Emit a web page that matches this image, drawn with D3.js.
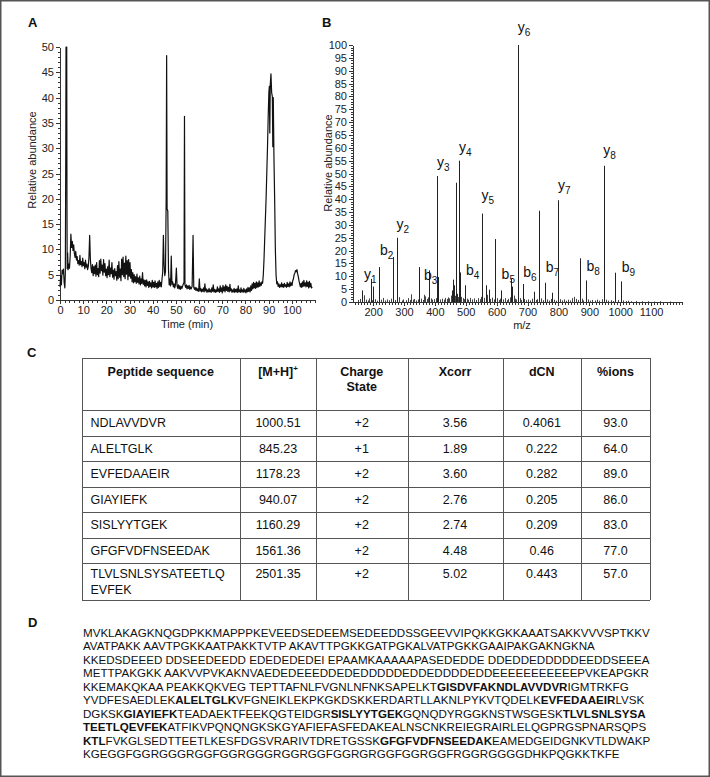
<!DOCTYPE html>
<html>
<head>
<meta charset="utf-8">
<script src="https://cdn.jsdelivr.net/npm/d3@7"></script>
<style>
body { margin: 0; background: #fff; }
svg { display: block; font-family: "Liberation Sans", Arial, sans-serif; }
.axis text { font-size: 11px; fill: #222; font-family: "Liberation Sans", Arial, sans-serif; }
.axis path, .axis line { stroke: #333; shape-rendering: crispEdges; }
.title { font-size: 11px; fill: #222; }
.panel { font-size: 13px; font-weight: bold; fill: #111; }
.grid line { stroke: #555; shape-rendering: crispEdges; }
.cell { font-size: 12.5px; fill: #111; }
.head { font-size: 12.5px; font-weight: bold; fill: #111; }
.seq { font-size: 11.6px; fill: #111; }
</style>
</head>
<body>
<svg id="fig" width="710" height="777"></svg>
<script>
// A: base peak chromatogram, [time (min), relative abundance]
var chromatogram = [
 [0,2.6],[0.3,4.8],[0.6,3.0],[0.9,5.9],[1.2,5.2],[1.5,6.1],[1.8,3.4],[2.1,2.4],[2.3,5.5],[2.5,30],[2.6,50],[2.9,50],[3.0,20],
 [3.1,6.2],[3.3,9.3],[3.5,6.0],[3.8,7.1],[4.1,6.3],[4.4,8.8],[4.7,13.0],[5.0,10.4],[5.3,11.6],[5.6,9.8],[5.9,10.9],[6.2,9.2],
 [6.5,8.4],[6.8,9.6],[7.1,7.9],[7.4,8.6],[7.7,7.2],[8.0,7.8],[8.3,6.9],[8.6,8.8],[8.9,7.0],[9.2,7.6],[9.5,6.6],[9.8,8.3],
 [10.1,6.8],[10.4,7.4],[10.7,6.2],[11.0,7.9],[11.3,6.5],[11.6,7.1],[11.9,6.0],[12.2,6.6],[12.5,8.5],[12.8,12.8],[13.1,8.0],
 [13.4,6.2],[13.7,5.4],[14.0,7.0],[14.3,4.8],[14.6,6.6],[14.9,5.2],[15.2,6.9],[15.5,4.7],[15.8,7.4],[16.1,5.0],[16.4,6.2],
 [16.7,4.6],[17.0,7.8],[17.3,5.3],[17.6,8.1],[17.9,5.8],[18.2,6.9],[18.5,4.9],[18.8,8.0],[19.1,5.5],[19.4,7.2],[19.7,4.8],
 [20.0,6.1],[20.3,4.4],[20.6,6.6],[20.9,5.0],[21.2,7.9],[21.5,4.6],[21.8,6.3],[22.1,5.2],[22.4,7.4],[22.7,4.5],[23.0,5.9],
 [23.3,4.1],[23.6,6.2],[23.9,4.8],[24.2,5.6],[24.5,3.9],[24.8,6.8],[25.1,4.2],[25.4,7.6],[25.7,4.5],[26.0,6.1],[26.3,3.8],
 [26.6,8.1],[26.9,5.0],[27.2,8.5],[27.5,4.6],[27.8,7.3],[28.1,4.2],[28.4,8.7],[28.7,5.1],[29.0,7.8],[29.3,4.0],[29.6,8.0],
 [29.9,4.7],[30.2,7.4],[30.5,4.3],[30.8,6.0],[31.1,3.6],[31.4,5.4],[31.7,3.4],[32.0,5.0],[32.3,3.6],[32.6,4.6],[32.9,3.3],
 [33.2,5.1],[33.5,3.5],[33.8,4.4],[34.1,3.2],[34.4,4.7],[34.7,3.0],[35.0,4.2],[35.3,3.3],[35.6,5.4],[35.9,3.1],[36.2,4.0],
 [36.5,2.8],[36.8,3.9],[37.1,2.6],[37.4,4.0],[37.7,2.9],[38.0,3.6],[38.3,2.5],[38.6,3.7],[38.9,2.7],[39.2,3.4],[39.5,2.4],
 [39.8,3.9],[40.1,2.6],[40.4,3.5],[40.7,2.5],[41.0,3.8],[41.3,2.6],[41.6,3.3],[41.9,2.3],[42.2,3.6],[42.5,2.5],[42.8,3.9],
 [43.1,2.7],[43.4,3.5],[43.7,2.6],[44.0,4.1],[44.3,5.5],[44.6,12.8],[44.9,7.0],[45.2,4.8],[45.5,5.6],[45.8,20],[46.0,48.3],
 [46.2,18.0],[46.5,17.6],[46.8,6.0],[47.1,3.0],[47.4,4.2],[47.7,2.8],[48.0,8.7],[48.3,3.1],[48.6,3.6],[48.9,2.6],[49.2,3.2],
 [49.5,2.4],[49.8,3.0],[50.2,6.3],[50.5,2.8],[50.8,2.3],[51.1,3.0],[51.4,2.2],[51.7,2.8],[52.0,2.1],[52.3,2.7],[52.6,2.3],
 [53.0,2.9],[53.5,3.5],[53.7,36.3],[53.9,3.0],[54.2,2.5],[54.5,3.0],[54.8,2.2],[55.1,2.8],[55.4,2.3],[55.7,2.9],[56.0,2.1],
 [56.3,2.6],[56.6,2.2],[57.0,2.7],[57.4,12.8],[57.7,2.5],[58.0,2.1],[58.3,2.5],[58.6,1.9],[58.9,2.4],[59.2,1.8],[59.5,2.2],
 [59.8,1.7],[60.1,4.2],[60.4,1.8],[60.7,2.3],[61.0,1.6],[61.3,2.1],[61.6,1.7],[61.9,2.4],[62.2,1.6],[62.5,3.2],[62.8,1.8],
 [63.1,2.2],[63.4,1.5],[63.7,2.0],[64.0,1.6],[64.3,2.3],[64.6,1.6],[64.9,2.0],[65.2,1.5],[65.5,2.4],[65.8,1.7],[66.1,3.0],
 [66.4,1.6],[66.7,2.1],[67.0,1.5],[67.3,2.0],[67.6,1.6],[67.9,2.6],[68.2,1.7],[68.5,2.2],[68.8,1.5],[69.1,2.8],[69.4,1.7],
 [69.7,2.4],[70.0,1.4],[70.3,2.9],[70.6,1.8],[70.9,2.6],[71.2,1.6],[71.5,3.0],[71.8,1.9],[72.1,2.7],[72.4,1.7],[72.7,2.5],
 [73.0,1.6],[73.3,3.1],[73.6,1.8],[73.9,2.2],[74.2,1.5],[74.5,2.0],[74.8,1.6],[75.1,2.3],[75.4,1.5],[75.7,2.1],[76.0,1.6],
 [76.3,2.2],[76.6,1.5],[76.9,2.8],[77.2,1.6],[77.5,2.0],[77.8,1.5],[78.1,2.4],[78.4,1.6],[78.7,2.0],[79.0,1.5],[79.3,2.3],
 [79.6,1.6],[79.9,2.0],[80.2,1.4],[80.5,2.2],[80.8,1.6],[81.1,2.5],[81.4,1.7],[81.7,2.4],[82.0,1.6],[82.3,2.8],[82.6,1.9],
 [82.9,3.2],[83.2,2.2],[83.5,3.5],[83.8,2.4],[84.1,3.3],[84.4,2.3],[84.7,3.6],[85.0,2.5],[85.3,3.4],[85.6,2.6],[85.9,3.8],
 [86.2,2.7],[86.5,3.4],[86.8,2.9],[87.1,3.6],[87.4,3.3],[87.7,5.0],[88.0,8],[88.3,12],[88.6,16],[88.9,20],[89.2,25],
 [89.5,30],[89.8,36],[90.1,41],[90.3,42.2],[90.5,33],[90.7,42.5],[91.0,44.7],[91.3,41],[91.6,40.2],[91.8,30.3],[92.0,40],
 [92.3,28],[92.6,19.8],[92.9,10],[93.2,5],[93.5,3.2],[93.8,3.6],[94.1,2.7],[94.4,3.2],[94.7,2.5],[95.0,3.0],[95.3,2.6],
 [95.6,3.4],[95.9,2.6],[96.2,3.1],[96.5,2.5],[96.8,3.3],[97.1,2.7],[97.4,3.0],[97.7,2.5],[98.0,3.5],[98.3,2.7],[98.6,3.2],
 [98.9,2.6],[99.2,3.6],[99.5,2.8],[99.8,3.4],[100.1,2.9],[100.4,3.8],[100.7,4.2],[101.0,5.0],[101.3,5.3],[101.6,5.8],
 [101.9,5.6],[102.2,6.0],[102.5,5.2],[102.8,4.6],[103.1,3.8],[103.4,3.2],[103.7,2.6],[104.0,3.3],[104.3,2.5],[104.6,3.6],
 [104.9,2.7],[105.2,3.9],[105.5,2.8],[105.8,3.4],[106.1,2.6],[106.4,3.8],[106.7,2.7],[107.0,3.5],[107.3,2.4],[107.6,3.7],
 [107.9,2.6],[108.2,3.3],[108.5,2.4],[108.8,2.6]
];
var timeTicks = [0, 10, 20, 30, 40, 50, 60, 70, 80, 90, 100];
var abundTicksA = [0, 5, 10, 15, 20, 25, 30, 35, 40, 45, 50];

// B: MS/MS spectrum, [m/z, relative abundance]
var spectrum = [
 [163,4.5],[171,2.6],[193,9.0],[201,6.0],[219,13.6],[266,17.5],[279,25.0],[322,3.0],[350,13.6],[365,2.8],[382,12.3],
 [408,49.0],[411,9.7],[452,2.5],[456,4.5],[459,8.7],[462,6.5],[468,46.4],[479,55.0],[482,11.5],[498,6.5],[554,34.4],
 [565,6.5],[575,4.8],[595,24.5],[615,4.5],[648,9.0],[651,6.0],[668,100],[685,7.0],[721,4.0],[738,35.5],[758,7.5],
 [780,3.6],[799,39.6],[851,2.0],[869,17.0],[888,8.4],[948,53.0],[984,11.4],[1002,8.0],
 [152,0.8],[158,1.2],[176,0.9],[184,0.6],[188,1.4],[196,0.7],[206,1.1],[212,0.5],[225,0.9],[231,1.6],[238,0.6],[246,1.0],
 [252,0.7],[258,1.3],[271,0.8],[285,1.9],[292,0.6],[298,1.0],[305,0.7],[312,1.5],[318,0.8],[328,0.9],[334,1.2],[340,0.6],
 [346,1.0],[356,1.3],[360,0.8],[369,2.2],[374,1.2],[378,1.8],[387,1.4],[392,0.9],[398,1.1],[403,1.5],[416,1.0],[422,1.3],
 [428,0.9],[433,1.6],[438,1.2],[443,1.8],[447,1.4],[465,2.4],[472,3.2],[475,1.9],[486,2.0],[490,1.5],[494,1.1],[503,1.3],
 [508,0.9],[514,1.6],[520,1.0],[527,1.4],[533,0.8],[539,1.5],[545,1.1],[549,2.0],[559,1.6],[570,2.8],[580,1.2],[586,1.7],
 [590,1.0],[600,1.5],[606,0.8],[610,1.3],[620,1.0],[626,1.5],[632,0.7],[637,1.2],[642,1.8],[655,2.5],[659,1.3],[663,1.0],
 [674,1.5],[679,0.8],[690,1.2],[695,0.7],[702,1.0],[708,0.6],[714,1.3],[726,0.8],[731,1.1],[744,1.4],[750,0.7],[764,1.0],
 [770,0.6],[775,1.2],[786,0.9],[792,0.5],[806,1.1],[812,0.6],[818,1.0],[824,0.5],[830,0.9],[838,0.6],[845,1.5],[857,1.2],
 [863,0.8],[875,1.3],[880,0.6],[895,1.0],[902,0.5],[910,0.8],[918,0.6],[925,0.9],[932,0.5],[940,1.1],[955,0.9],[962,0.5],
 [970,0.7],[977,0.4],[992,0.8],[1010,0.6],[1018,0.4],[1025,0.5],[1035,0.3],[1050,0.4],[1070,0.3],[1090,0.3],[1110,0.2],
 [1130,0.3],[1160,0.2]
];
// fragment ion labels: [series, number, m/z, level] (text anchor in data units)
var ionLabels = [
 ["y",1,171,9.0],["b",2,222,18.3],["y",2,276,28.5],["b",3,365,8.6],["y",3,407,52.7],["y",4,478,58.5],
 ["b",4,501,10.5],["y",5,551,39.8],["b",5,616,9.0],["y",6,668,105],["b",6,686,9.8],["b",7,759,11.7],
 ["y",7,799,43.7],["b",8,891,12.1],["y",8,945,57.3],["b",9,1005,11.7]
];
var mzTicks = [200, 300, 400, 500, 600, 700, 800, 900, 1000, 1100];
var abundTicksB = [0,5,10,15,20,25,30,35,40,45,50,55,60,65,70,75,80,85,90,95,100];

// C: peptide identifications
var tableHeader = [["Peptide sequence"], ["[M+H]", "+"], ["Charge", "State"], ["Xcorr"], ["dCN"], ["%ions"]];
var pepSeq = ["NDLAVVDVR", "ALELTGLK", "EVFEDAAEIR", "GIAYIEFK", "SISLYYTGEK", "GFGFVDFNSEEDAK", "TLVLSNLSYSATEETLQEVFEK"];
var pepMH = ["1000.51", "845.23", "1178.23", "940.07", "1160.29", "1561.36", "2501.35"];
var pepCharge = ["+2", "+1", "+2", "+2", "+2", "+2", "+2"];
var pepXcorr = ["3.56", "1.89", "3.60", "2.76", "2.74", "4.48", "5.02"];
var pepDCN = ["0.4061", "0.222", "0.282", "0.205", "0.209", "0.46", "0.443"];
var pepIons = ["93.0", "64.0", "89.0", "86.0", "83.0", "77.0", "57.0"];

// D: protein sequence, identified peptides in [brackets]
var seqLines = [
 "MVKLAKAGKNQGDPKKMAPPPKEVEEDSEDEEMSEDEEDDSSGEEVVIPQKKGKKAAATSAKKVVVSPTKKV",
 "AVATPAKK AAVTPGKKAATPAKKTVTP AKAVTTPGKKGATPGKALVATPGKKGAAIPAKGAKNGKNA",
 "KKEDSDEEED DDSEEDEEDD EDEDEDEDEI EPAAMKAAAAAPASEDEDDE DDEDDEDDDDDEEDDSEEEA",
 "METTPAKGKK AAKVVPVKAKNVAEDEDEEEDDEDEDDDDDEDDEDDDDEDDEEEEEEEEEEEPVKEAPGKR",
 "KKEMAKQKAA PEAKKQKVEG TEPTTAFNLFVGNLNFNKSAPELKT[GISDVFAKNDLAVVDVR]IGMTRKFG",
 "YVDFESAEDLEK[ALELTGLK]VFGNEIKLEKPKGKDSKKERDARTLLAKNLPYKVTQDELK[EVFEDAAEIR]LVSK",
 "DGKSK[GIAYIEFK]TEADAEKTFEEKQGTEIDGR[SISLYYTGEK]GQNQDYRGGKNSTWSGESK[TLVLSNLSYSA]",
 "[TEETLQEVFEK]ATFIKVPQNQNGKSKGYAFIEFASFEDAKEALNSCNKREIEGRAIRLELQGPRGSPNARSQPS",
 "[KTL]FVKGLSEDTTEETLKESFDGSVRARIVTDRETGSSK[GFGFVDFNSEEDAK]EAMEDGEIDGNKVTLDWAKP",
 "KGEGGFGGRGGGRGGFGGRGGGRGGRGGFGGRGRGGFGGRGGFRGGRGGGGDHKPQGKKTKFE"
];

var svg = d3.select("#fig");

svg.append("rect")
    .attr("x", 0.75).attr("y", 0.75)
    .attr("width", 708.5).attr("height", 775.5)
    .attr("fill", "none").attr("stroke", "#555").attr("stroke-width", 1.5);

function panelLabel(txt, x, y) {
    svg.append("text").attr("class", "panel").attr("x", x).attr("y", y).text(txt);
}

function minorValues(lo, hi, step) {
    var v = [];
    for (var t = lo; t <= hi + 1e-9; t += step) v.push(Math.round(t * 100) / 100);
    return v;
}

// draws x and y axes, major ticks labelled, minor ticks plain
function drawAxes(g, x, y, xTicks, xStep, yTicks, yStep) {
    var x0 = y.range()[0], y0 = x.range()[0];
    var xd = x.domain(), yd = y.domain();
    g.append("g").attr("class", "axis")
        .attr("transform", "translate(0," + x0 + ")")
        .call(d3.axisBottom(x).tickValues(minorValues(Math.ceil(xd[0] / xStep) * xStep, xd[1], xStep))
              .tickFormat("").tickSize(2.5).tickSizeOuter(0));
    g.append("g").attr("class", "axis")
        .attr("transform", "translate(0," + x0 + ")")
        .call(d3.axisBottom(x).tickValues(xTicks).tickFormat(d3.format("d"))
              .tickSize(4).tickPadding(2).tickSizeOuter(0))
        .select(".domain").remove();
    g.append("g").attr("class", "axis")
        .attr("transform", "translate(" + y0 + ",0)")
        .call(d3.axisLeft(y).tickValues(minorValues(yd[0], yd[1], yStep))
              .tickFormat("").tickSize(2.5).tickSizeOuter(0));
    g.append("g").attr("class", "axis")
        .attr("transform", "translate(" + y0 + ",0)")
        .call(d3.axisLeft(y).tickValues(yTicks).tickSize(4).tickPadding(2).tickSizeOuter(0))
        .select(".domain").remove();
}

function chromatogramPanel() {
    var g = svg.append("g");
    var x = d3.scaleLinear().domain([0, 110]).range([60, 315]);
    var y = d3.scaleLinear().domain([0, 50]).range([300, 47]);

    drawAxes(g, x, y, timeTicks, 2, abundTicksA, 1);

    var line = d3.line()
        .x(function(d) { return x(d[0]); })
        .y(function(d) { return y(Math.min(d[1], 50)); });

    g.append("path")
        .datum(chromatogram)
        .attr("d", line)
        .attr("fill", "none")
        .attr("stroke", "#111")
        .attr("stroke-width", 1.2)
        .attr("stroke-linejoin", "round");

    g.append("text").attr("class", "title")
        .attr("transform", "translate(36," + 160 + ") rotate(-90)")
        .attr("text-anchor", "middle")
        .text("Relative abundance");
    g.append("text").attr("class", "title")
        .attr("x", 187).attr("y", 328)
        .attr("text-anchor", "middle")
        .text("Time (min)");
}

function spectrumPanel() {
    var g = svg.append("g");
    var x = d3.scaleLinear().domain([135, 1200]).range([353, 682]);
    var y = d3.scaleLinear().domain([0, 100]).range([302, 45]);

    drawAxes(g, x, y, mzTicks, 10, abundTicksB, 1);

    g.selectAll(".peak")
        .data(spectrum)
        .enter().append("line")
        .attr("class", "peak")
        .attr("x1", function(d) { return Math.round(x(d[0])) + 0.5; })
        .attr("x2", function(d) { return Math.round(x(d[0])) + 0.5; })
        .attr("y1", y(0))
        .attr("y2", function(d) { return y(d[1]); })
        .attr("stroke", function(d) { return d[1] > 3 ? "#222" : "#444"; })
        .attr("stroke-width", 1);

    var lab = g.selectAll(".ion")
        .data(ionLabels)
        .enter().append("text")
        .attr("class", "ion")
        .attr("x", function(d) { return x(d[2]); })
        .attr("y", function(d) { return y(d[3]); })
        .attr("font-size", 14)
        .attr("fill", "#111");
    lab.append("tspan").text(function(d) { return d[0]; });
    lab.append("tspan").attr("dy", 4).attr("font-size", 10)
        .text(function(d) { return d[1]; });

    g.append("text").attr("class", "title")
        .attr("transform", "translate(332," + 163 + ") rotate(-90)")
        .attr("text-anchor", "middle")
        .text("Relative abundance");
    g.append("text").attr("class", "title")
        .attr("x", 522).attr("y", 329)
        .attr("text-anchor", "middle")
        .text("m/z");
}

function tablePanel() {
    var g = svg.append("g");
    var cols = [81.5, 240, 316, 407.5, 502.5, 581, 650];
    var rows = [358, 410, 435.5, 461, 486.5, 512, 537.5, 563, 600];

    var grid = g.append("g").attr("class", "grid");
    cols.forEach(function(c) {
        grid.append("line").attr("x1", Math.round(c) + 0.5).attr("x2", Math.round(c) + 0.5)
            .attr("y1", rows[0]).attr("y2", rows[rows.length - 1]);
    });
    rows.forEach(function(r) {
        grid.append("line").attr("y1", Math.round(r) + 0.5).attr("y2", Math.round(r) + 0.5)
            .attr("x1", cols[0]).attr("x2", cols[cols.length - 1]);
    });

    var mid = function(i) { return (cols[i] + cols[i + 1]) / 2; };

    tableHeader.forEach(function(h, i) {
        var t = g.append("text").attr("class", "head")
            .attr("x", mid(i)).attr("y", 376).attr("text-anchor", "middle");
        if (i == 1) {
            t.append("tspan").text(h[0]);
            t.append("tspan").attr("dy", -5).attr("font-size", 8).text(h[1]);
        } else {
            t.text(h[0]);
            if (h.length > 1)
                g.append("text").attr("class", "head")
                    .attr("x", mid(i)).attr("y", 391).attr("text-anchor", "middle").text(h[1]);
        }
    });

    pepSeq.forEach(function(s, r) {
        var base = (rows[r + 1] + rows[r + 2]) / 2 + 4.5;
        if (s.length > 17) base = rows[r + 1] + 15;
        var t = g.append("text").attr("class", "cell").attr("x", 90.5).attr("y", base);
        if (s.length > 17) {
            t.append("tspan").attr("x", 90.5).text(s.slice(0, 17));
            t.append("tspan").attr("x", 90.5).attr("dy", 16).text(s.slice(17));
        } else {
            t.text(s);
        }
        [pepMH[r], pepCharge[r], pepXcorr[r], pepDCN[r], pepIons[r]].forEach(function(v, c) {
            g.append("text").attr("class", "cell")
                .attr("x", mid(c + 1)).attr("y", base)
                .attr("text-anchor", "middle").text(v);
        });
    });
}

function sequencePanel() {
    var g = svg.append("g");
    seqLines.forEach(function(line, i) {
        var t = g.append("text").attr("class", "seq")
            .attr("x", 83).attr("y", 637 + i * 13.45);
        line.split(/(\[[A-Z]+\])/).forEach(function(part) {
            if (!part) return;
            if (part[0] == "[")
                t.append("tspan").attr("font-weight", "bold").text(part.slice(1, -1));
            else
                t.append("tspan").text(part);
        });
    });
}

panelLabel("A", 28, 27);
panelLabel("B", 322, 27);
panelLabel("C", 27, 357);
panelLabel("D", 28, 627);

chromatogramPanel();
spectrumPanel();
tablePanel();
sequencePanel();
</script>
</body>
</html>
